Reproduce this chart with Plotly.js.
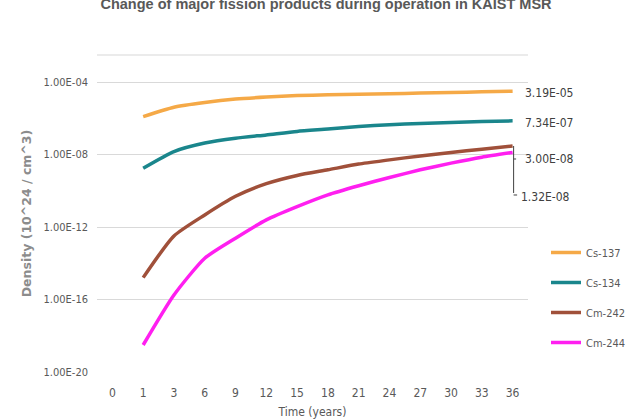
<!DOCTYPE html>
<html>
<head>
<meta charset="utf-8">
<script src="https://cdn.plot.ly/plotly-3.0.1.min.js"></script>
<style>html,body{margin:0;padding:0;background:#fff;}#chart{width:627px;height:419px;}</style>
</head>
<body>
<div id="chart"></div>
<script>
// Time categories (years)
var years = ['0','1','3','6','9','12','15','18','21','24','27','30','33','36'];
var dataYears = ['1','3','6','9','12','15','18','21','24','27','30','33','36'];

// Densities (10^24 / cm^3)
var cs137 = [1.26e-6, 4.17e-6, 7.59e-6, 1.17e-5, 1.51e-5, 1.82e-5, 2.0e-5, 2.14e-5, 2.29e-5, 2.51e-5, 2.69e-5, 2.95e-5, 3.19e-5];
var cs134 = [1.78e-9, 1.48e-8, 4.37e-8, 8.13e-8, 1.23e-7, 1.91e-7, 2.57e-7, 3.55e-7, 4.47e-7, 5.25e-7, 5.89e-7, 6.76e-7, 7.34e-7];
var cm242 = [1.62e-15, 3.24e-13, 4.68e-12, 5.0e-11, 2.5e-10, 7.1e-10, 1.45e-9, 3.02e-9, 5.13e-9, 8.51e-9, 1.32e-8, 2.0e-8, 3.00e-8];
var cm244 = [3.09e-19, 1.78e-16, 1.91e-14, 2.45e-13, 2.51e-12, 1.35e-11, 6.03e-11, 1.91e-10, 5.5e-10, 1.45e-9, 3.39e-9, 7.24e-9, 1.32e-8];

var seriesNames = ['Cs-137', 'Cs-134', 'Cm-242', 'Cm-244'];
var seriesColors = ['#F5A947', '#1A868C', '#A0503A', '#FF1FF0'];
var tickExps = [-20, -16, -12, -8, -4];

function fmtE(v) {
  var e = Math.floor(Math.log10(v) + 1e-9);
  var m = v / Math.pow(10, e);
  if (m >= 9.995) { m /= 10; e += 1; }
  var s = Math.abs(e) < 10 ? '0' + Math.abs(e) : '' + Math.abs(e);
  return m.toFixed(2) + 'E' + (e < 0 ? '-' : '+') + s;
}

var allSeries = [cs137, cs134, cm242, cm244];
var traces = allSeries.map(function (ys, i) {
  return {
    type: 'scatter', mode: 'lines',
    x: dataYears, y: ys,
    name: seriesNames[i],
    legendgroup: 'g' + i,
    line: {color: seriesColors[i], width: 3.5, shape: 'spline', smoothing: 0.6},
    hoverinfo: 'skip'
  };
});

var W = 627, H = 419;
var M = {l: 97, r: 99, t: 55, b: 47};

var narrow = '"Liberation Sans Narrow", "DejaVu Sans Condensed", Arial, sans-serif';
var lastIdx = dataYears.length - 1;
var lastPos = years.indexOf(dataYears[lastIdx]);   // numeric category position
var labelShiftY = [-2, -2, -13, -45];
var labelShiftX = [10, 10, 10, 6];
var annotations = allSeries.map(function (ys, i) {
  var v = ys[lastIdx];
  return {
    xref: 'x', yref: 'y', x: lastPos, y: Math.log10(v),
    text: fmtE(v), showarrow: false, xanchor: 'left', yanchor: 'middle',
    xshift: labelShiftX[i], yshift: labelShiftY[i],
    font: {family: narrow, size: 12, color: '#404040'}
  };
});

// leader lines (as arrow-only annotations) from the Cm-242 end point to the Cm labels
var leaderColor = '#404040';
var y242 = Math.log10(cm242[lastIdx]);
function leader(dx, dy, tailX, tailY) {
  return {
    xref: 'x', yref: 'y', x: lastPos, y: y242, xshift: dx, yshift: dy,
    text: ' ', font: {size: 1}, showarrow: true, arrowhead: 0, arrowwidth: 1,
    arrowcolor: leaderColor, ax: tailX, ay: tailY, axref: 'pixel', ayref: 'pixel',
    standoff: 0, startstandoff: 0
  };
}
annotations.push(leader(1, 0, 0, 49));
annotations.push(leader(1, -49, 5, 0));
annotations.push(leader(1, -13, 4, 0));

var shapes = [
  {type: 'line', xref: 'paper', yref: 'paper', x0: 0, x1: 1, y0: 1, y1: 1,
   line: {color: '#E4E4E4', width: 1.5}}
];

var layout = {
  width: W, height: H,
  margin: M,
  paper_bgcolor: '#fff', plot_bgcolor: '#fff',
  showlegend: true,
  title: {
    text: '<b>Change of major fission products during operation in KAIST MSR</b>',
    font: {family: '"Liberation Sans", Arial, sans-serif', size: 14.5, color: '#595959'},
    x: 0.52, xanchor: 'center', y: 0.99, yref: 'container', yanchor: 'middle'
  },
  xaxis: {
    type: 'category', categoryorder: 'array', categoryarray: years,
    range: [-0.5, years.length - 0.5], showgrid: false, zeroline: false, showline: false,
    ticks: '', ticklabelstandoff: 12,
    tickfont: {family: narrow, size: 12, color: '#595959'},
    title: {text: 'Time (years)', font: {family: narrow, size: 12, color: '#595959'}, standoff: 16},
    fixedrange: true
  },
  yaxis: {
    type: 'log', range: [-20, -2.5],
    tickvals: tickExps.map(function (e) { return Math.pow(10, e); }),
    ticktext: tickExps.map(function (e) { return fmtE(Math.pow(10, e)); }),
    showgrid: true, gridcolor: '#D9D9D9', gridwidth: 1, zeroline: false, showline: false,
    ticks: '', ticklabelstandoff: 8,
    tickfont: {family: narrow, size: 11, color: '#595959'},
    title: {text: '<b>Density (10^24 / cm^3)</b>', font: {family: '"DejaVu Sans", sans-serif', size: 12.5, color: '#8C8C8C'}, standoff: 9},
    fixedrange: true
  },
  legend: {
    xref: 'container', yref: 'container',
    x: 546 / W, xanchor: 'left', y: 1 - 238 / H, yanchor: 'top',
    font: {family: narrow, size: 11, color: '#595959'},
    tracegroupgap: 11, bgcolor: 'rgba(0,0,0,0)', itemwidth: 30
  },
  annotations: annotations,
  shapes: shapes
};

Plotly.newPlot('chart', traces, layout, {displayModeBar: false, staticPlot: true});
</script>
</body>
</html>
